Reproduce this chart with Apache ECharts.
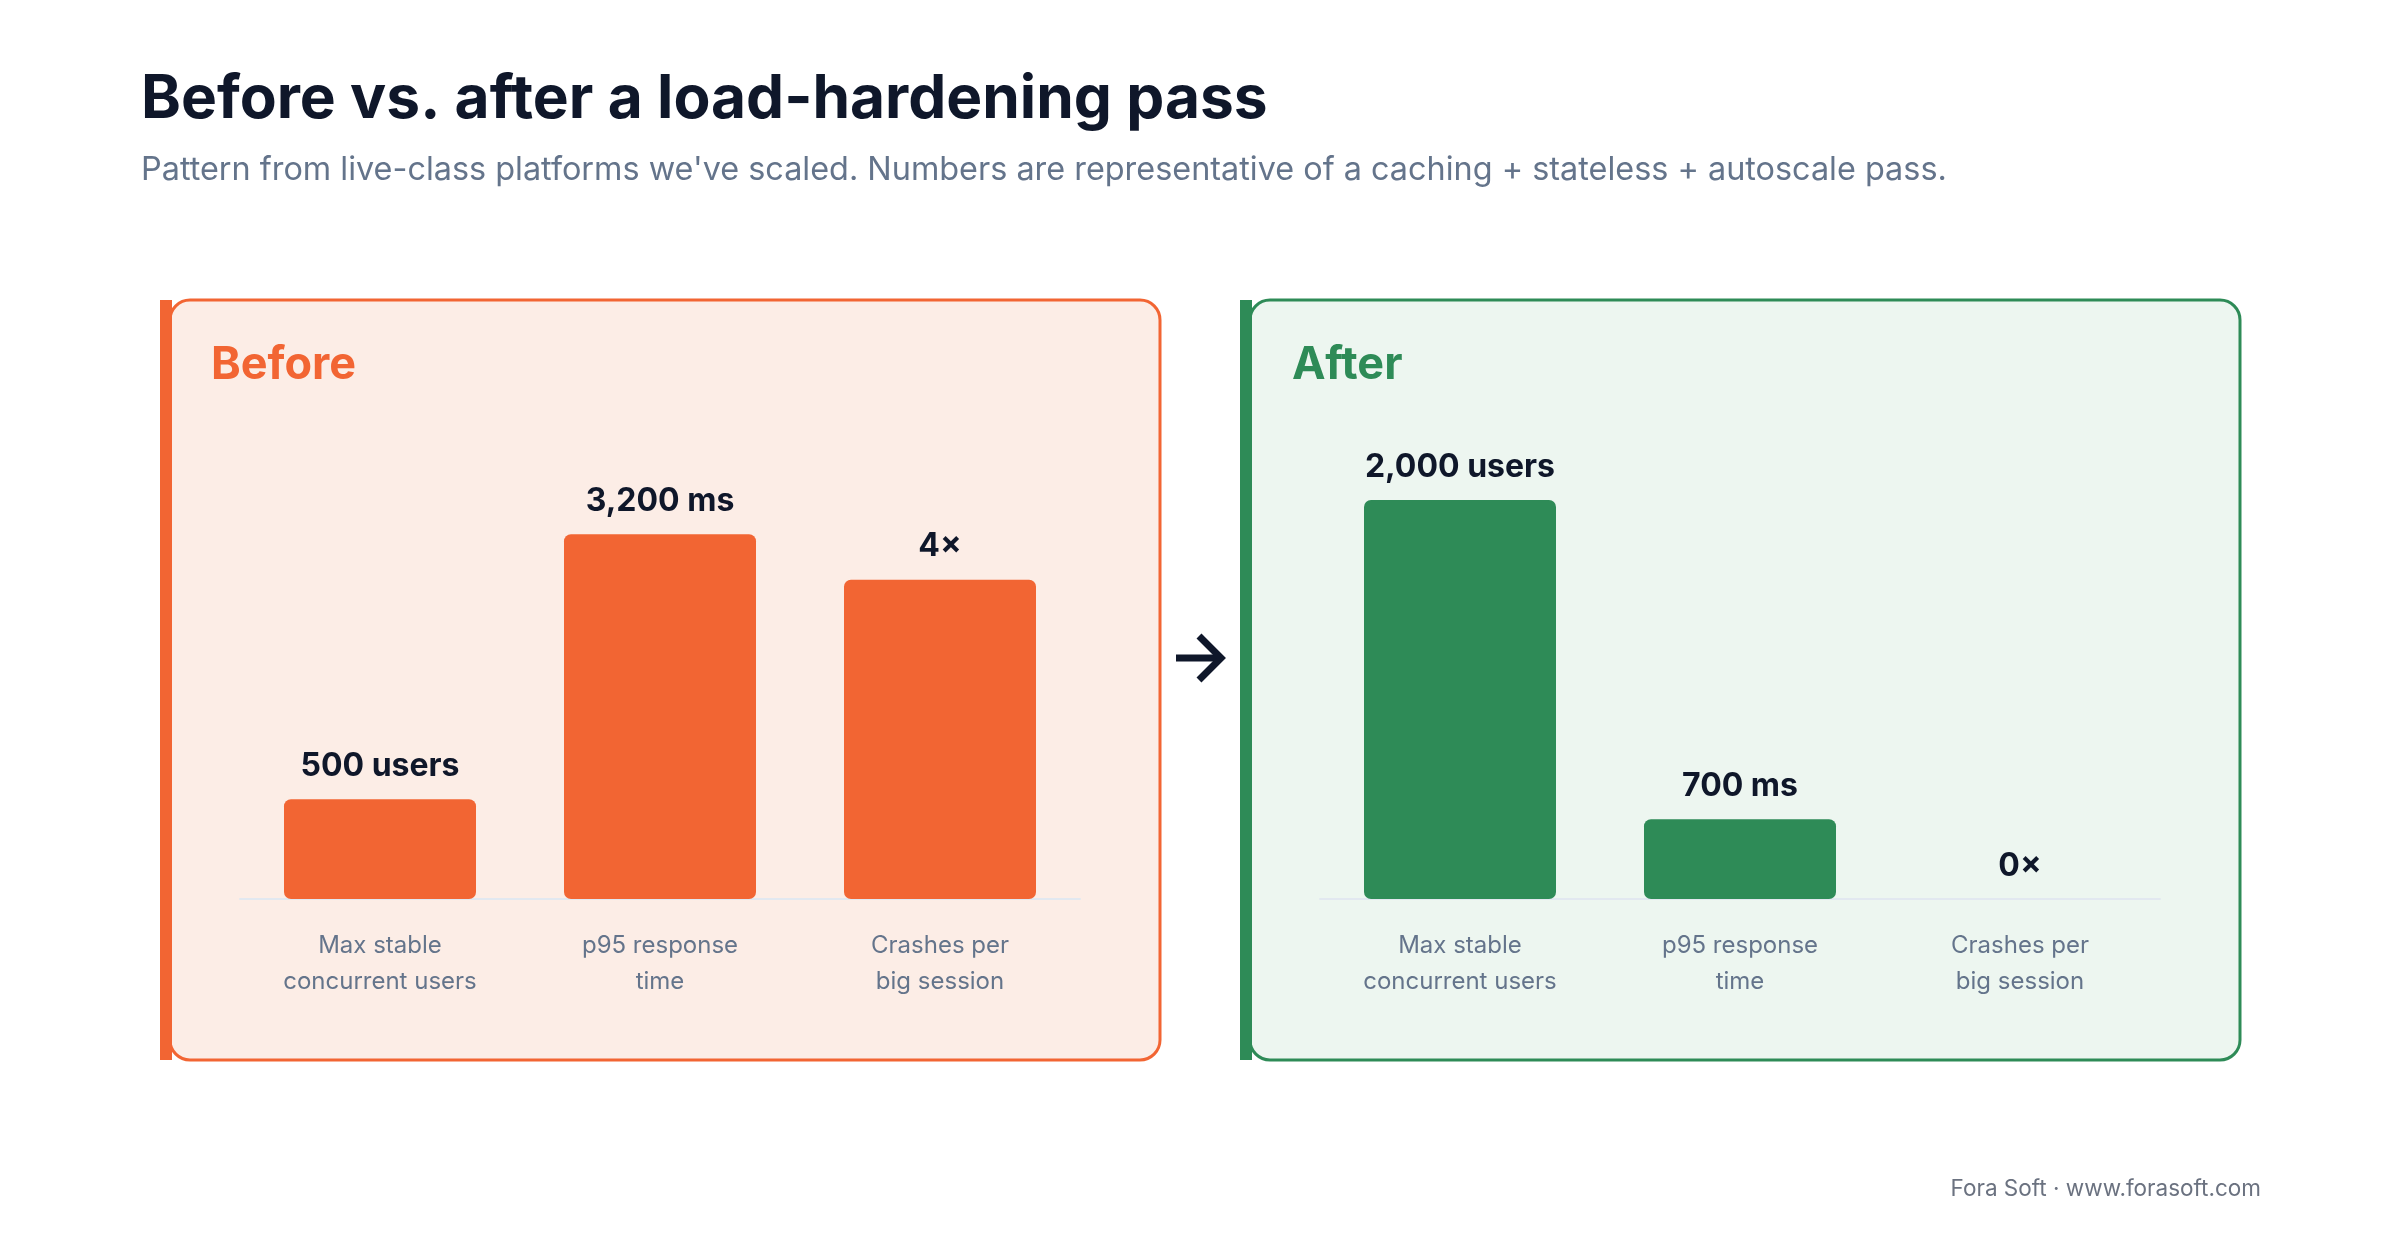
<!DOCTYPE html>
<html lang="en">
<head>
    <meta charset="UTF-8">
    <title>Before vs. after a load-hardening pass</title>
    <style>
      html, body { margin: 0; padding: 0; background: #ffffff; }
      #chart { width: 2400px; height: 1240px; }
    </style>
</head>
<body>
  <div id="chart"></div>

  <script type="text/javascript" src="https://fastly.jsdelivr.net/npm/echarts@6/dist/echarts.min.js"></script>

  <script type="text/javascript">
    // data
    const categories = ['Max stable\nconcurrent users', 'p95 response\ntime', 'Crashes per\nbig session'];
    const beforeValues = [500, 3200, 4];
    const afterValues = [2000, 700, 0];
    const beforeLabels = ['500 users', '3,200 ms', '4\u00d7'];
    const afterLabels = ['2,000 users', '700 ms', '0\u00d7'];
    // reference value per metric, bars are drawn as value / reference
    const metricReference = [2000, 3500, 5];

    const orange = '#f26533';
    const green = '#2e8b57';
    const ink = '#0f172a';
    const slate = '#64748b';
    const font = 'Inter, "Noto Sans", sans-serif';

    function normalize(values) {
      return values.map(function (v, i) { return v / metricReference[i]; });
    }

    var dom = document.getElementById('chart');
    var myChart = echarts.init(dom, null, { renderer: 'canvas' });

    function barSeries(idx, values, labels, color) {
      return {
        type: 'bar',
        xAxisIndex: idx,
        yAxisIndex: idx,
        data: normalize(values),
        barWidth: 192,
        itemStyle: { color: color, borderRadius: 7 },
        label: {
          show: true,
          position: 'top',
          distance: 17,
          formatter: function (p) { return labels[p.dataIndex]; },
          color: ink,
          fontFamily: font,
          fontSize: 32,
          fontWeight: 700
        },
        silent: true,
        animation: false
      };
    }

    function xAxis(idx) {
      return {
        type: 'category',
        gridIndex: idx,
        data: categories,
        axisTick: { show: false },
        axisLine: { lineStyle: { color: '#e2e8f0', width: 2 } },
        axisLabel: {
          color: slate,
          fontFamily: font,
          fontSize: 24,
          lineHeight: 36,
          margin: 29,
          interval: 0
        }
      };
    }

    function yAxis(idx) {
      return {
        type: 'value',
        gridIndex: idx,
        min: 0,
        max: 1,
        show: false,
        splitLine: { show: false }
      };
    }

    var option = {
      backgroundColor: '#ffffff',
      animation: false,
      grid: [
        { left: 240, width: 840, top: 500, bottom: 341 },
        { left: 1320, width: 840, top: 500, bottom: 341 }
      ],
      xAxis: [xAxis(0), xAxis(1)],
      yAxis: [yAxis(0), yAxis(1)],
      series: [
        barSeries(0, beforeValues, beforeLabels, orange),
        barSeries(1, afterValues, afterLabels, green)
      ],
      graphic: [
        // panels
        { type: 'rect', z: -10, shape: { x: 170, y: 300, width: 990, height: 760, r: 20 },
          style: { fill: '#fcede6', stroke: orange, lineWidth: 3 } },
        { type: 'rect', z: -9, shape: { x: 160, y: 300, width: 12, height: 760 },
          style: { fill: orange } },
        { type: 'rect', z: -10, shape: { x: 1250, y: 300, width: 990, height: 760, r: 20 },
          style: { fill: '#edf6f0', stroke: green, lineWidth: 3 } },
        { type: 'rect', z: -9, shape: { x: 1240, y: 300, width: 12, height: 760 },
          style: { fill: green } },
        // arrow
        { type: 'polyline', shape: { points: [[1176, 658], [1220, 658]] },
          style: { stroke: ink, lineWidth: 7, fill: null } },
        { type: 'polyline', shape: { points: [[1199, 636], [1221, 658], [1199, 680]] },
          style: { stroke: ink, lineWidth: 7, fill: null } },
        // texts
        { type: 'text', style: { x: 141, y: 100, text: 'Before vs. after a load-hardening pass',
          font: '700 60.4px ' + font, fill: ink, textVerticalAlign: 'middle' } },
        { type: 'text', style: { x: 141, y: 170,
          text: "Pattern from live-class platforms we've scaled. Numbers are representative of a caching + stateless + autoscale pass.",
          font: '400 32.4px ' + font, fill: slate, textVerticalAlign: 'middle' } },
        { type: 'text', style: { x: 211, y: 365, text: 'Before',
          font: '700 45px ' + font, fill: orange, textVerticalAlign: 'middle' } },
        { type: 'text', style: { x: 1292, y: 365, text: 'After',
          font: '700 45px ' + font, fill: green, textVerticalAlign: 'middle' } },
        { type: 'text', style: { x: 2261, y: 1189, text: 'Fora Soft \u00b7 www.forasoft.com',
          font: '400 22.5px ' + font, fill: '#6b7280', textAlign: 'right', textVerticalAlign: 'middle' } }
      ]
    };

    myChart.setOption(option);
    window.addEventListener('resize', myChart.resize);
  </script>
</body>
</html>
